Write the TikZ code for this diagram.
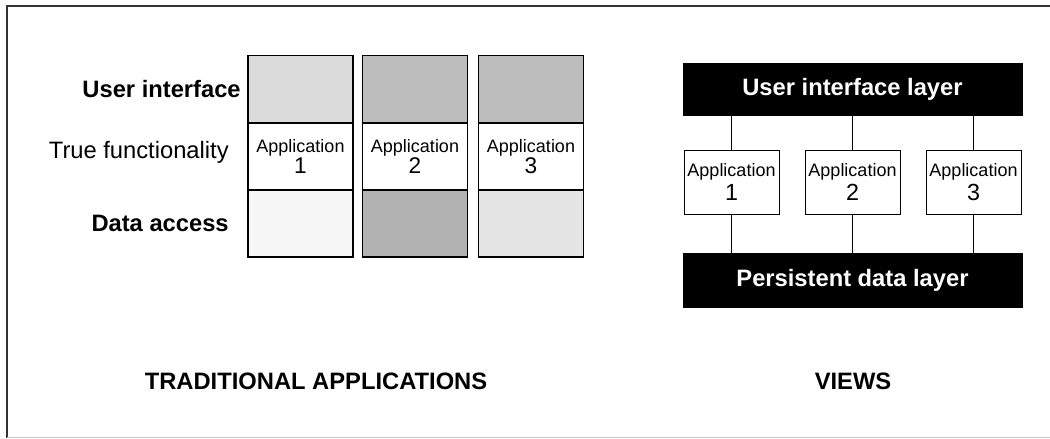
\documentclass[tikz,border=0pt]{standalone}
\usepackage{fontspec}
\setmainfont{Liberation Sans}
\newcommand\pxu{0.75pt}
\tikzset{
  cell/.style={draw=black, line width=1.1pt, minimum width=105*\pxu, minimum height=67*\pxu, inner sep=0pt, anchor=center},
  appcell/.style={cell, fill=white, align=center, font=\fontsize{13.5}{16}\selectfont},
  lbl/.style={anchor=east, inner sep=0pt, font=\fontsize{17.8}{20}\selectfont},
  layer/.style={fill=black, draw=black, text=white, minimum width=339*\pxu, inner sep=0pt, font=\fontsize{17.8}{20}\selectfont\bfseries},
  appbox/.style={draw=black, line width=0.6pt, fill=white, minimum width=95*\pxu, minimum height=64*\pxu, inner sep=0pt, align=center, font=\fontsize{13.5}{18}\selectfont},
  conn/.style={draw=black, line width=0.6pt},
  title/.style={inner sep=0pt, font=\fontsize{17.8}{20}\selectfont\bfseries},
}
\begin{document}
\begin{tikzpicture}[x=0.75pt, y=-0.75pt]
\useasboundingbox (0,0) rectangle (1050,439);
% frame
\draw[line width=1.6pt, color=black!80] (7,437.5) -- (7,6) -- (1050,6);
\draw[line width=1.2pt, color=black!22] (7,437.5) -- (1050,437.5);

% left panel labels
\node[lbl, font=\fontsize{17.8}{20}\selectfont\bfseries] (lui) at (241,89) {User interface};
\node[lbl] (ltf) at (229,152) {True functionality};
\node[lbl, font=\fontsize{17.8}{20}\selectfont\bfseries] (lda) at (229,223) {Data access};

% left panel columns
\node[cell, fill=black!14] (u1) at (300.5,89) {};
\node[cell, fill=black!26] (u2) at (415,89) {};
\node[cell, fill=black!26] (u3) at (531,89) {};
\node[appcell] (t1) at (300.5,156.5) {Application\\{\fontsize{17}{16}\selectfont 1}};
\node[appcell] (t2) at (415,156.5) {Application\\{\fontsize{17}{16}\selectfont 2}};
\node[appcell] (t3) at (531,156.5) {Application\\{\fontsize{17}{16}\selectfont 3}};
\node[cell, fill=black!3] (d1) at (300.5,223.5) {};
\node[cell, fill=black!30] (d2) at (415,223.5) {};
\node[cell, fill=black!10] (d3) at (531,223.5) {};

% right panel
\node[layer, minimum height=52*\pxu] (ui) at (852.5,89) {User interface layer};
\node[layer, minimum height=54*\pxu] (pd) at (852.5,280) {Persistent data layer};
\node[appbox] (a1) at (731.5,182) {Application\\{\fontsize{17.5}{18}\selectfont 1}};
\node[appbox] (a2) at (852.5,182) {Application\\{\fontsize{17.5}{18}\selectfont 2}};
\node[appbox] (a3) at (973.5,182) {Application\\{\fontsize{17.5}{18}\selectfont 3}};
\foreach \a in {a1,a2,a3} {
  \draw[conn] (\a.north) -- (\a.north |- ui.south);
  \draw[conn] (\a.south) -- (\a.south |- pd.north);
}

% titles
\node[title] (tt) at (316,381) {TRADITIONAL APPLICATIONS};
\node[title] (tv) at (853,381) {VIEWS};
\end{tikzpicture}
\end{document}
